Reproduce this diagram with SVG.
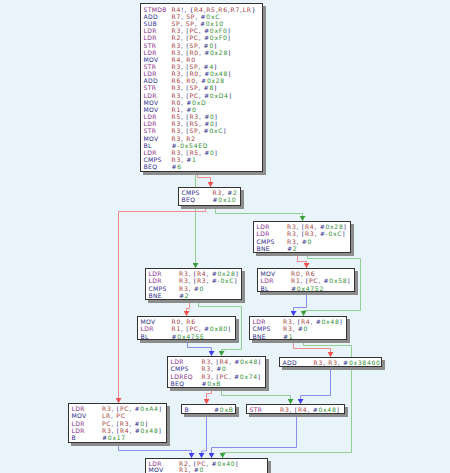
<svg xmlns="http://www.w3.org/2000/svg" width="450" height="473" viewBox="0 0 450 473">
<style>
.bg{fill:#e8f4fa}
.sh{fill:#8c8c8c}
.bx{fill:#ffffff;stroke:#333333;stroke-width:1}
text{font-family:"DejaVu Sans",Verdana,sans-serif;font-size:6.1px}
.m{fill:#8b2d8b;letter-spacing:0.3px}
.n{fill:#2d2d8b;letter-spacing:0.3px}
.o{fill:#2d2d8b;letter-spacing:0.7px}
.r{fill:#a83a3a}
.g{fill:#2f8f2f}
.er{fill:none;stroke:#f28b8b;stroke-width:1}
.eg{fill:none;stroke:#93cf93;stroke-width:1}
.eb{fill:none;stroke:#8c8cf0;stroke-width:1}
</style>
<defs>
<marker id="ar" markerUnits="userSpaceOnUse" markerWidth="6" markerHeight="6" refX="5" refY="3" orient="auto"><path d="M0,0 L5,3 L0,6 z" fill="#f05050"/></marker>
<marker id="ag" markerUnits="userSpaceOnUse" markerWidth="6" markerHeight="6" refX="5" refY="3" orient="auto"><path d="M0,0 L5,3 L0,6 z" fill="#3ca03c"/></marker>
<marker id="ab" markerUnits="userSpaceOnUse" markerWidth="6" markerHeight="6" refX="5" refY="3" orient="auto"><path d="M0,0 L5,3 L0,6 z" fill="#4040f0"/></marker>
</defs>
<rect class="bg" x="0" y="0" width="450" height="473"/>
<g id="connectors">
<path class="er" marker-end="url(#ar)" d="M197.5,172 V177.5 H210.5 V187"/>
<path class="eg" marker-end="url(#ag)" d="M207.5,172 V174.5 H195.5 V268"/>
<path class="er" marker-end="url(#ar)" d="M205.5,206 V211.5 H118.5 V403"/>
<path class="eg" marker-end="url(#ag)" d="M215.5,206 V213.5 H302.5 V221"/>
<path class="er" marker-end="url(#ar)" d="M297.5,253 V261.5 H306.5 V268"/>
<path class="eg" marker-end="url(#ag)" d="M307.5,253 V258.5 H360.5 V310.5 H303.5 V316"/>
<path class="eb" marker-end="url(#ab)" d="M306.5,292 V307.5 H293.5 V316"/>
<path class="er" marker-end="url(#ar)" d="M189.5,300 V308.5 H186.5 V316"/>
<path class="eg" marker-end="url(#ag)" d="M198.5,300 V306.5 H241.5 V349.5 H221.5 V356"/>
<path class="eb" marker-end="url(#ab)" d="M187.5,340 V347.5 H211.5 V356"/>
<path class="er" marker-end="url(#ar)" d="M293.5,340 V348.5 H330.5 V357"/>
<path class="eg" marker-end="url(#ag)" d="M303.5,340 V345.5 H351.5 V452.5 H222.5 V458"/>
<path class="er" marker-end="url(#ar)" d="M211.5,388 V393.5 H206.5 V404"/>
<path class="eg" marker-end="url(#ag)" d="M221.5,388 V395.5 H290.5 V404"/>
<path class="eb" marker-end="url(#ab)" d="M330.5,367 V395.5 H300.5 V404"/>
<path class="eb" marker-end="url(#ab)" d="M118.5,443 V450.5 H191.5 V458"/>
<path class="eb" marker-end="url(#ab)" d="M206.5,414 V451 H201.5 V458"/>
<path class="eb" marker-end="url(#ab)" d="M296.5,414 V447.5 H211.5 V458"/>
</g>
<g id="nodeA">
<rect class="sh" x="143" y="6" width="123" height="169"/>
<rect class="bx" x="140.5" y="3.5" width="122" height="168"/>
<text class="m" x="143.5" y="11.8">STMDB</text><text class="o" x="171.5" y="11.8"><tspan class="r">R4</tspan>!, {<tspan class="r">R4</tspan>,<tspan class="r">R5</tspan>,<tspan class="r">R6</tspan>,<tspan class="r">R7</tspan>,<tspan class="r">LR</tspan>}</text>
<text class="n" x="143.5" y="18.95">ADD</text><text class="o" x="171.5" y="18.95"><tspan class="r">R7</tspan>, <tspan class="r">SP</tspan>, #<tspan class="g">0xC</tspan></text>
<text class="n" x="143.5" y="26.1">SUB</text><text class="o" x="171.5" y="26.1"><tspan class="r">SP</tspan>, <tspan class="r">SP</tspan>, #<tspan class="g">0x10</tspan></text>
<text class="m" x="143.5" y="33.25">LDR</text><text class="o" x="171.5" y="33.25"><tspan class="r">R3</tspan>, [<tspan class="r">PC</tspan>, #<tspan class="g">0xF0</tspan>]</text>
<text class="m" x="143.5" y="40.4">LDR</text><text class="o" x="171.5" y="40.4"><tspan class="r">R2</tspan>, [<tspan class="r">PC</tspan>, #<tspan class="g">0xF0</tspan>]</text>
<text class="m" x="143.5" y="47.55">STR</text><text class="o" x="171.5" y="47.55"><tspan class="r">R3</tspan>, [<tspan class="r">SP</tspan>, #<tspan class="g">0</tspan>]</text>
<text class="m" x="143.5" y="54.7">LDR</text><text class="o" x="171.5" y="54.7"><tspan class="r">R3</tspan>, [<tspan class="r">R0</tspan>, #<tspan class="g">0x28</tspan>]</text>
<text class="n" x="143.5" y="61.85">MOV</text><text class="o" x="171.5" y="61.85"><tspan class="r">R4</tspan>, <tspan class="r">R0</tspan></text>
<text class="m" x="143.5" y="69">STR</text><text class="o" x="171.5" y="69"><tspan class="r">R3</tspan>, [<tspan class="r">SP</tspan>, #<tspan class="g">4</tspan>]</text>
<text class="m" x="143.5" y="76.15">LDR</text><text class="o" x="171.5" y="76.15"><tspan class="r">R3</tspan>, [<tspan class="r">R0</tspan>, #<tspan class="g">0x48</tspan>]</text>
<text class="n" x="143.5" y="83.3">ADD</text><text class="o" x="171.5" y="83.3"><tspan class="r">R6</tspan>, <tspan class="r">R0</tspan>, #<tspan class="g">0x28</tspan></text>
<text class="m" x="143.5" y="90.45">STR</text><text class="o" x="171.5" y="90.45"><tspan class="r">R3</tspan>, [<tspan class="r">SP</tspan>, #<tspan class="g">8</tspan>]</text>
<text class="m" x="143.5" y="97.6">LDR</text><text class="o" x="171.5" y="97.6"><tspan class="r">R3</tspan>, [<tspan class="r">PC</tspan>, #<tspan class="g">0xD4</tspan>]</text>
<text class="n" x="143.5" y="104.75">MOV</text><text class="o" x="171.5" y="104.75"><tspan class="r">R0</tspan>, #<tspan class="g">0xD</tspan></text>
<text class="n" x="143.5" y="111.9">MOV</text><text class="o" x="171.5" y="111.9"><tspan class="r">R1</tspan>, #<tspan class="g">0</tspan></text>
<text class="m" x="143.5" y="119.05">LDR</text><text class="o" x="171.5" y="119.05"><tspan class="r">R5</tspan>, [<tspan class="r">R3</tspan>, #<tspan class="g">0</tspan>]</text>
<text class="m" x="143.5" y="126.2">LDR</text><text class="o" x="171.5" y="126.2"><tspan class="r">R3</tspan>, [<tspan class="r">R5</tspan>, #<tspan class="g">0</tspan>]</text>
<text class="m" x="143.5" y="133.35">STR</text><text class="o" x="171.5" y="133.35"><tspan class="r">R3</tspan>, [<tspan class="r">SP</tspan>, #<tspan class="g">0xC</tspan>]</text>
<text class="n" x="143.5" y="140.5">MOV</text><text class="o" x="171.5" y="140.5"><tspan class="r">R3</tspan>, <tspan class="r">R2</tspan></text>
<text class="n" x="143.5" y="147.65">BL</text><text class="o" x="171.5" y="147.65">#<tspan class="g">-0x54ED</tspan></text>
<text class="m" x="143.5" y="154.8">LDR</text><text class="o" x="171.5" y="154.8"><tspan class="r">R3</tspan>, [<tspan class="r">R5</tspan>, #<tspan class="g">0</tspan>]</text>
<text class="n" x="143.5" y="161.95">CMPS</text><text class="o" x="171.5" y="161.95"><tspan class="r">R3</tspan>, #<tspan class="g">1</tspan></text>
<text class="n" x="143.5" y="169.1">BEQ</text><text class="o" x="171.5" y="169.1">#<tspan class="g">6</tspan></text>
</g>
<g id="nodeB">
<rect class="sh" x="181" y="190" width="63" height="19"/>
<rect class="bx" x="178.5" y="187.5" width="62" height="18"/>
<text class="n" x="181.5" y="195.2">CMPS</text><text class="o" x="212.5" y="195.2"><tspan class="r">R3</tspan>, #<tspan class="g">2</tspan></text>
<text class="n" x="181.5" y="202.35">BEQ</text><text class="o" x="212.5" y="202.35">#<tspan class="g">0x10</tspan></text>
</g>
<g id="nodeC">
<rect class="sh" x="256" y="224" width="98" height="32"/>
<rect class="bx" x="253.5" y="221.5" width="97" height="31"/>
<text class="m" x="256.5" y="229.2">LDR</text><text class="o" x="287" y="229.2"><tspan class="r">R3</tspan>, [<tspan class="r">R4</tspan>, #<tspan class="g">0x28</tspan>]</text>
<text class="m" x="256.5" y="236.35">LDR</text><text class="o" x="287" y="236.35"><tspan class="r">R3</tspan>, [<tspan class="r">R3</tspan>, #<tspan class="g">-0xC</tspan>]</text>
<text class="n" x="256.5" y="243.5">CMPS</text><text class="o" x="287" y="243.5"><tspan class="r">R3</tspan>, #<tspan class="g">0</tspan></text>
<text class="n" x="256.5" y="250.65">BNE</text><text class="o" x="287" y="250.65">#<tspan class="g">2</tspan></text>
</g>
<g id="nodeD">
<rect class="sh" x="148" y="271" width="97" height="32"/>
<rect class="bx" x="145.5" y="268.5" width="96" height="31"/>
<text class="m" x="148.5" y="276.2">LDR</text><text class="o" x="179" y="276.2"><tspan class="r">R3</tspan>, [<tspan class="r">R4</tspan>, #<tspan class="g">0x28</tspan>]</text>
<text class="m" x="148.5" y="283.35">LDR</text><text class="o" x="179" y="283.35"><tspan class="r">R3</tspan>, [<tspan class="r">R3</tspan>, #<tspan class="g">-0xC</tspan>]</text>
<text class="n" x="148.5" y="290.5">CMPS</text><text class="o" x="179" y="290.5"><tspan class="r">R3</tspan>, #<tspan class="g">0</tspan></text>
<text class="n" x="148.5" y="297.65">BNE</text><text class="o" x="179" y="297.65">#<tspan class="g">2</tspan></text>
</g>
<g id="nodeE">
<rect class="sh" x="260" y="271" width="98" height="24"/>
<rect class="bx" x="257.5" y="268.5" width="97" height="23"/>
<text class="n" x="260.5" y="276.2">MOV</text><text class="o" x="291" y="276.2"><tspan class="r">R0</tspan>, <tspan class="r">R6</tspan></text>
<text class="m" x="260.5" y="283.35">LDR</text><text class="o" x="291" y="283.35"><tspan class="r">R1</tspan>, [<tspan class="r">PC</tspan>, #<tspan class="g">0x58</tspan>]</text>
<text class="n" x="260.5" y="290.5">BL</text><text class="o" x="291" y="290.5">#<tspan class="g">0x4752</tspan></text>
</g>
<g id="nodeF">
<rect class="sh" x="140" y="319" width="99" height="24"/>
<rect class="bx" x="137.5" y="316.5" width="98" height="23"/>
<text class="n" x="140.5" y="324.2">MOV</text><text class="o" x="171.5" y="324.2"><tspan class="r">R0</tspan>, <tspan class="r">R6</tspan></text>
<text class="m" x="140.5" y="331.35">LDR</text><text class="o" x="171.5" y="331.35"><tspan class="r">R1</tspan>, [<tspan class="r">PC</tspan>, #<tspan class="g">0x80</tspan>]</text>
<text class="n" x="140.5" y="338.5">BL</text><text class="o" x="171.5" y="338.5">#<tspan class="g">0x475E</tspan></text>
</g>
<g id="nodeG">
<rect class="sh" x="252" y="319" width="98" height="24"/>
<rect class="bx" x="249.5" y="316.5" width="97" height="23"/>
<text class="m" x="252.5" y="324.2">LDR</text><text class="o" x="283" y="324.2"><tspan class="r">R3</tspan>, [<tspan class="r">R4</tspan>, #<tspan class="g">0x48</tspan>]</text>
<text class="n" x="252.5" y="331.35">CMPS</text><text class="o" x="283" y="331.35"><tspan class="r">R3</tspan>, #<tspan class="g">0</tspan></text>
<text class="n" x="252.5" y="338.5">BNE</text><text class="o" x="283" y="338.5">#<tspan class="g">1</tspan></text>
</g>
<g id="nodeH">
<rect class="sh" x="170" y="359" width="99" height="32"/>
<rect class="bx" x="167.5" y="356.5" width="98" height="31"/>
<text class="m" x="170.5" y="364.2">LDR</text><text class="o" x="201.5" y="364.2"><tspan class="r">R3</tspan>, [<tspan class="r">R4</tspan>, #<tspan class="g">0x48</tspan>]</text>
<text class="n" x="170.5" y="371.35">CMPS</text><text class="o" x="201.5" y="371.35"><tspan class="r">R3</tspan>, #<tspan class="g">0</tspan></text>
<text class="m" x="170.5" y="378.5">LDREQ</text><text class="o" x="201.5" y="378.5"><tspan class="r">R3</tspan>, [<tspan class="r">PC</tspan>, #<tspan class="g">0x74</tspan>]</text>
<text class="n" x="170.5" y="385.65">BEQ</text><text class="o" x="201.5" y="385.65">#<tspan class="g">0xB</tspan></text>
</g>
<g id="nodeI">
<rect class="sh" x="282" y="360" width="103" height="10"/>
<rect class="bx" x="279.5" y="357.5" width="102" height="9"/>
<text class="n" x="282.5" y="365.2">ADD</text><text class="o" x="313.5" y="365.2"><tspan class="r">R3</tspan>, <tspan class="r">R3</tspan>, #<tspan class="g">0x38400</tspan></text>
</g>
<g id="nodeJ">
<rect class="sh" x="184" y="407" width="55" height="10"/>
<rect class="bx" x="181.5" y="404.5" width="54" height="9"/>
<text class="n" x="184.5" y="412.2">B</text><text class="o" x="214" y="412.2">#<tspan class="g">0xB</tspan></text>
</g>
<g id="nodeK">
<rect class="sh" x="249" y="407" width="99" height="10"/>
<rect class="bx" x="246.5" y="404.5" width="98" height="9"/>
<text class="m" x="249.5" y="412.2">STR</text><text class="o" x="280" y="412.2"><tspan class="r">R3</tspan>, [<tspan class="r">R4</tspan>, #<tspan class="g">0x48</tspan>]</text>
</g>
<g id="nodeL">
<rect class="sh" x="71" y="406" width="99" height="40"/>
<rect class="bx" x="68.5" y="403.5" width="98" height="39"/>
<text class="m" x="71.5" y="411.2">LDR</text><text class="o" x="102" y="411.2"><tspan class="r">R3</tspan>, [<tspan class="r">PC</tspan>, #<tspan class="g">0xA4</tspan>]</text>
<text class="n" x="71.5" y="418.35">MOV</text><text class="o" x="102" y="418.35"><tspan class="r">LR</tspan>, <tspan class="r">PC</tspan></text>
<text class="m" x="71.5" y="425.5">LDR</text><text class="o" x="102" y="425.5"><tspan class="r">PC</tspan>, [<tspan class="r">R3</tspan>, #<tspan class="g">0</tspan>]</text>
<text class="m" x="71.5" y="432.65">LDR</text><text class="o" x="102" y="432.65"><tspan class="r">R3</tspan>, [<tspan class="r">R4</tspan>, #<tspan class="g">0x48</tspan>]</text>
<text class="n" x="71.5" y="439.8">B</text><text class="o" x="102" y="439.8">#<tspan class="g">0x17</tspan></text>
</g>
<g id="nodeM">
<rect class="sh" x="148" y="461" width="123" height="30"/>
<rect class="bx" x="145.5" y="458.5" width="122" height="30"/>
<text class="m" x="148.5" y="466.2">LDR</text><text class="o" x="179" y="466.2"><tspan class="r">R2</tspan>, [<tspan class="r">PC</tspan>, #<tspan class="g">0x40</tspan>]</text>
<text class="n" x="148.5" y="472.4">MOV</text><text class="o" x="179" y="472.4"><tspan class="r">R1</tspan>, #<tspan class="g">0</tspan></text>
</g>
</svg>
